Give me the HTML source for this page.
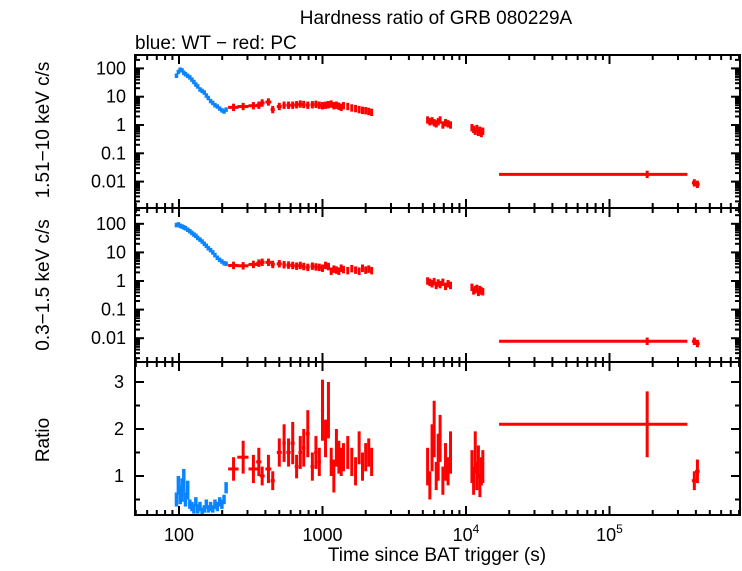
<!DOCTYPE html>
<html><head><meta charset="utf-8"><style>
body{margin:0;background:#fff}
svg{font-family:"Liberation Sans",sans-serif}
</style></head><body>
<svg id="c" width="742" height="566" xmlns="http://www.w3.org/2000/svg">
<rect width="742" height="566" fill="#fff"/>
<text x="436" y="24" font-size="19" text-anchor="middle">Hardness ratio of GRB 080229A</text>
<text x="135" y="49" font-size="19">blue: WT − red: PC</text>
<text transform="translate(49,130) rotate(-90)" font-size="19" text-anchor="middle">1.51−10 keV c/s</text>
<text transform="translate(49,285) rotate(-90)" font-size="19" text-anchor="middle">0.3−1.5 keV c/s</text>
<text transform="translate(49,440) rotate(-90)" font-size="19" text-anchor="middle">Ratio</text>
<text x="437" y="561" font-size="19" text-anchor="middle">Time since BAT trigger (s)</text>
<g id="g"></g>
</svg>
<script>
// WT (blue) data
const wtT=[96,99,102,105,108,111,115,119,123,127,131,135,140,145,150,155,160,166,172,178,185,192,199,206,213];
const wtH=[55,75,90,85,70,62,55,48,40,33,27,23,18,16,14,11,9,7,6,5,4.5,3.8,3.3,3.0,3.5];
const wtS=[90,95,85,80,75,70,62,55,48,42,38,32,28,24,20,17,14,12,10,8,6.5,5.5,4.8,4.2,4.0];
const wtR=[0.5,0.8,0.6,0.7,0.9,0.5,0.7,0.4,0.35,0.3,0.45,0.3,0.35,0.25,0.3,0.4,0.3,0.35,0.3,0.4,0.35,0.45,0.4,0.5,0.75];
const wtRE=[0.15,0.2,0.2,0.25,0.25,0.15,0.2,0.1,0.1,0.1,0.1,0.1,0.1,0.08,0.08,0.1,0.08,0.1,0.08,0.1,0.1,0.1,0.1,0.1,0.12];
// PC (red) data
const pcT=[240,280,330,360,380,420,450,500,540,580,620,660,700,740,790,850,900,950,1000,1050,1100,1150,1200,1250,1300,1350,1400,1500,1600,1700,1800,1900,2000,2100,2200,
5400,5600,5800,6000,6200,6400,6600,6900,7200,7500,7800,
11000,11300,11600,11900,12200,12500,12800,13100,
183000,390000,410000];
const pcTE=[20,25,25,15,15,20,15,20,15,20,20,20,20,20,25,25,25,25,25,25,25,25,25,25,25,25,30,30,30,30,30,30,40,40,40,
80,80,80,80,80,80,80,80,80,80,80,
120,120,120,120,120,120,120,120,
166000,15000,15000];
const pcH=[4.2,4.5,4.8,5,6,6.5,3.5,4.5,5,5,5,5.2,5.5,5.3,5,5.2,5.4,5,4.8,5,5.2,5.5,4.8,5,4.6,4.2,4.8,4.5,4,3.8,3.5,3.3,3.2,3,2.8,
1.5,1.3,1.4,1.2,1.1,1.3,1.5,1.0,1.2,1.1,1.0,
0.8,0.7,0.6,0.75,0.55,0.65,0.5,0.6,
0.018,0.009,0.008];
const pcS=[3.5,3.4,3.8,4.2,4.5,4.5,3.8,4,3.7,3.6,3.5,3.3,3.5,3.2,3.0,3.3,3.1,3.0,2.8,3.5,3.2,2.2,2.6,2.4,2.2,2.8,2.5,2.3,2.7,2.4,2.2,2.8,2.4,2.6,2.3,
1.0,0.9,0.8,0.95,0.7,0.85,0.75,0.9,0.65,0.8,0.7,
0.6,0.45,0.5,0.55,0.4,0.5,0.45,0.42,
0.0078,0.0078,0.0065];
const pcR=[1.15,1.4,1.15,1.3,1.0,1.15,0.9,1.5,1.7,1.5,1.7,1.2,1.5,1.6,1.9,1.2,1.5,1.3,2.4,1.8,2.4,1.3,1.0,1.6,1.4,1.3,1.4,1.5,1.3,1.1,1.6,1.2,1.4,1.5,1.3,
1.2,0.8,1.6,2.0,1.0,1.4,1.8,0.9,1.3,1.1,1.5,
1.2,0.9,1.5,1.0,1.3,0.8,1.1,1.2,
2.1,0.9,1.1];
const pcRE=[0.25,0.35,0.3,0.3,0.2,0.3,0.2,0.3,0.4,0.3,0.45,0.25,0.35,0.4,0.5,0.3,0.35,0.3,0.65,0.4,0.6,0.3,0.35,0.4,0.35,0.3,0.3,0.35,0.3,0.3,0.35,0.3,0.3,0.3,0.3,
0.4,0.3,0.5,0.6,0.3,0.5,0.5,0.3,0.4,0.3,0.45,
0.35,0.3,0.45,0.3,0.35,0.25,0.3,0.35,
0.7,0.2,0.25];
const xTickVals=[100,1000,10000,100000];
const xTickLabels=["100","1000","10^4","10^5"];
const rateTicks=[100,10,1,0.1,0.01];
const rateTickLabels=["100","10","1","0.1","0.01"];
const ratioTicks=[1,2,3];

const NS="http://www.w3.org/2000/svg";
const g=document.getElementById('g');
const L=135,R=740;
const x=t=>179+143.5*(Math.log10(t)-2);
const panels=[{top:55,bot:208,y:v=>125-28.3*Math.log10(v)},{top:208,bot:362,y:v=>281-28.6*Math.log10(v)},{top:362,bot:515,y:v=>476-47*(v-1)}];
function el(tag,a,parent){const e=document.createElementNS(NS,tag);for(const k in a)e.setAttribute(k,a[k]);(parent||g).appendChild(e);return e;}
function ln(x1,y1,x2,y2,c,w,name){const e=el('line',{x1,y1,x2,y2,stroke:c,'stroke-width':w});

return e;}
panels.forEach((p,i)=>{
  const f=el('rect',{x:L,y:p.top,width:R-L,height:p.bot-p.top,fill:'none',stroke:'#000','stroke-width':2});
  
  
  for(let d=1;d<=5;d++){for(let m=1;m<10;m++){const t=m*Math.pow(10,d);const xx=x(t);if(xx<L||xx>R)continue;const len=m==1?9:5;
    ln(xx,p.bot,xx,p.bot-len,'#000',2,'x-tick');ln(xx,p.top,xx,p.top+len,'#000',2,'x-tick');}}
  if(i<2){for(let d=-3;d<=2;d++){for(let m=1;m<10;m++){const v=m*Math.pow(10,d);const yy=p.y(v);if(yy<p.top||yy>p.bot)continue;const len=m==1?9:5;
    ln(L,yy,L+len,yy,'#000',2,'y-tick');ln(R,yy,R-len,yy,'#000',2,'y-tick');}}
    rateTicks.forEach((v,k)=>{const t=el('text',{x:L-9,y:p.y(v)+6,'font-size':18,'text-anchor':'end'});t.textContent=rateTickLabels[k];
      
      });
  }else{for(let v=0.5;v<=3.4;v+=0.5){const yy=p.y(v);if(yy>p.bot)continue;const len=(v%1==0)?9:5;
    ln(L,yy,L+len,yy,'#000',2,'y-tick');ln(R,yy,R-len,yy,'#000',2,'y-tick');}
    ratioTicks.forEach(v=>{const t=el('text',{x:L-11,y:p.y(v)+6,'font-size':18,'text-anchor':'end'});t.textContent=String(v);
      
      });}
});
xTickVals.forEach((v,k)=>{const t=el('text',{x:x(v),y:541,'font-size':18,'text-anchor':'middle'});
  const lab=xTickLabels[k];
  if(lab.indexOf('^')>0){const [b,e]=lab.split('^');t.textContent=b;const s=el('tspan',{dy:-8,'font-size':12},t);s.textContent=e;}else t.textContent=lab;
  
  });
function series(T,TE,H,S,Rt,RE,col,w,ef){
  T.forEach((t,i)=>{
    const x0=x(Math.max(t-TE[i],1)),x1=x(t+TE[i]),xc=x(t);
    [[H[i],0],[S[i],1]].forEach(([v,pi])=>{const p=panels[pi];const yc=p.y(v);
      ln(x0,yc,x1,yc,col,w,'rate-point');ln(xc,p.y(v*ef),xc,p.y(v/ef),col,w,'rate-error');});
    const p=panels[2];const yc=p.y(Rt[i]);
    ln(x0,yc,x1,yc,col,w,'ratio-point');ln(xc,p.y(Rt[i]+RE[i]),xc,Math.min(p.y(Rt[i]-RE[i]),p.bot-1),col,w,'ratio-error');
  });}
series(wtT,wtT.map(t=>t*0.015),wtH,wtS,wtR,wtRE,'#0a84ff',3.5,1.2);
series(pcT,pcTE,pcH,pcS,pcR,pcRE,'#ff0000',3,1.35);
</script>
</body></html>
